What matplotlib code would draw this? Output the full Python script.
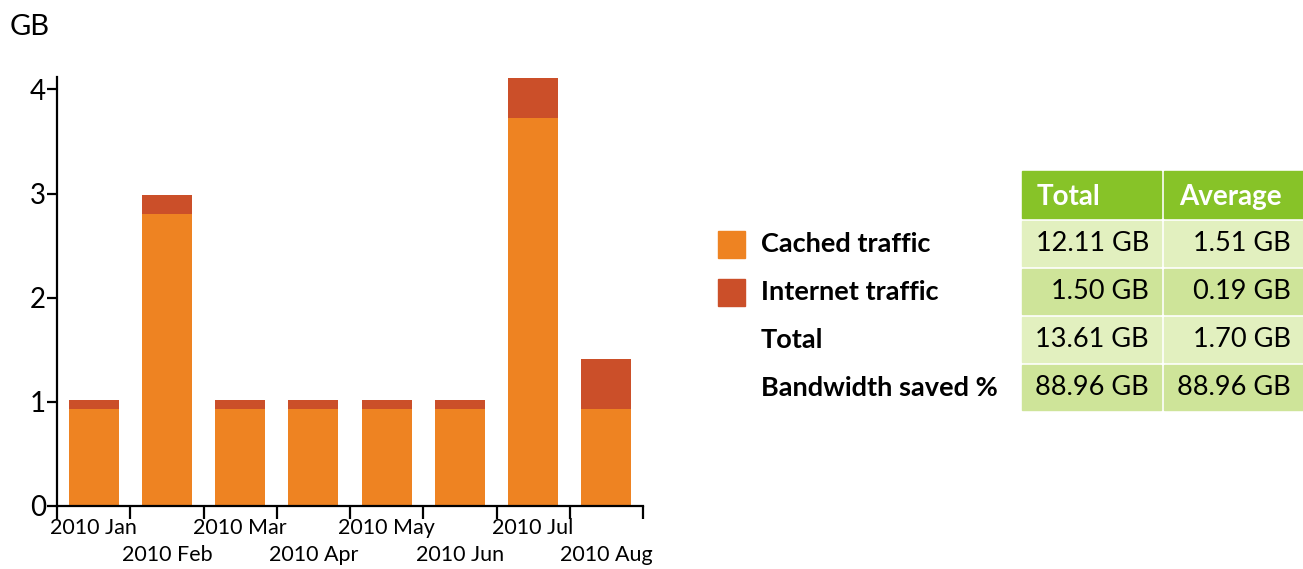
import numpy as np
import matplotlib.pyplot as plt
from matplotlib.patches import Rectangle

plt.rcParams['font.family'] = ['Lato', 'DejaVu Sans']

# data
months = ["2010 Jan", "2010 Feb", "2010 Mar", "2010 Apr",
          "2010 May", "2010 Jun", "2010 Jul", "2010 Aug"]
cached = [0.93, 2.80, 0.93, 0.93, 0.93, 0.93, 3.73, 0.93]
internet = [0.09, 0.19, 0.09, 0.09, 0.09, 0.09, 0.38, 0.48]

row_labels = ["Cached traffic", "Internet traffic", "Total", "Bandwidth saved %"]
col_labels = ["Total", "Average"]
total_col = ["12.11 GB", "1.50 GB", "13.61 GB", "88.96 GB"]
avg_col = ["1.51 GB", "0.19 GB", "1.70 GB", "88.96 GB"]

c_cached = "#EE8322"
c_inet = "#CB4F29"
c_head = "#87C328"
c_light = "#E2F0BF"
c_mid = "#CEE499"

W, H = 1303, 569
fig = plt.figure(figsize=(W / 100, H / 100), dpi=100)

# bar chart
ax = fig.add_axes([57 / W, 1 - 506 / H, (643 - 57) / W, (506 - 77) / H])
x = np.arange(len(months))
ax.bar(x, cached, width=0.68, color=c_cached)
ax.bar(x, internet, bottom=cached, width=0.68, color=c_inet)
ax.set_xlim(-0.5, len(months) - 0.5)
ax.set_ylim(0, 4.12)

for s in ["top", "right"]:
    ax.spines[s].set_visible(False)
for s in ["left", "bottom"]:
    ax.spines[s].set_linewidth(1.6)

ax.set_yticks([0, 1, 2, 3, 4])
ax.tick_params(axis="y", length=7, width=1.6, labelsize=20, pad=1)

ax.set_xticks(np.arange(len(months) + 1) - 0.5)
ax.set_xticklabels([])
ax.tick_params(axis="x", which="major", length=9, width=1.6)
ax.set_xticks(x, minor=True)
ax.set_xticklabels(months, minor=True)
ax.tick_params(axis="x", which="minor", length=0, labelsize=15.5)
for i, t in enumerate(ax.xaxis.get_minor_ticks()):
    t.set_pad(9 if i % 2 == 0 else 28)

fig.text(10 / W, 1 - 27 / H, "GB", fontsize=21, va="center", ha="left")

# legend + table drawn in pixel coordinates
tx = fig.add_axes([0, 0, 1, 1])
tx.set_xlim(0, W)
tx.set_ylim(H, 0)
tx.axis("off")

col_x = [1022, 1164]
col_w = [139, 139]
head_y, head_h = 171, 47
row_h, row_gap = 45, 3

for j, lab in enumerate(col_labels):
    tx.add_patch(Rectangle((col_x[j], head_y), col_w[j], head_h, color=c_head))
    tx.text(col_x[j] + 15, head_y + head_h / 2 + 2, lab, color="white",
            fontsize=20, fontweight="bold", va="center", ha="left")

for i, lab in enumerate(row_labels):
    y0 = head_y + head_h + row_gap + i * (row_h + row_gap)
    yc = y0 + row_h / 2
    fc = c_light if i % 2 == 0 else c_mid
    for j, vals in enumerate([total_col, avg_col]):
        tx.add_patch(Rectangle((col_x[j], y0), col_w[j], row_h, color=fc))
        tx.text(col_x[j] + col_w[j] - 12, yc, vals[i], fontsize=19.5,
                va="center", ha="right")
    tx.text(761, yc, lab, fontsize=19.5, fontweight="bold", va="center", ha="left")
    if i < 2:
        tx.add_patch(Rectangle((718, yc - 13), 27, 27,
                               color=[c_cached, c_inet][i]))

fig.savefig("out.png", dpi=100)
